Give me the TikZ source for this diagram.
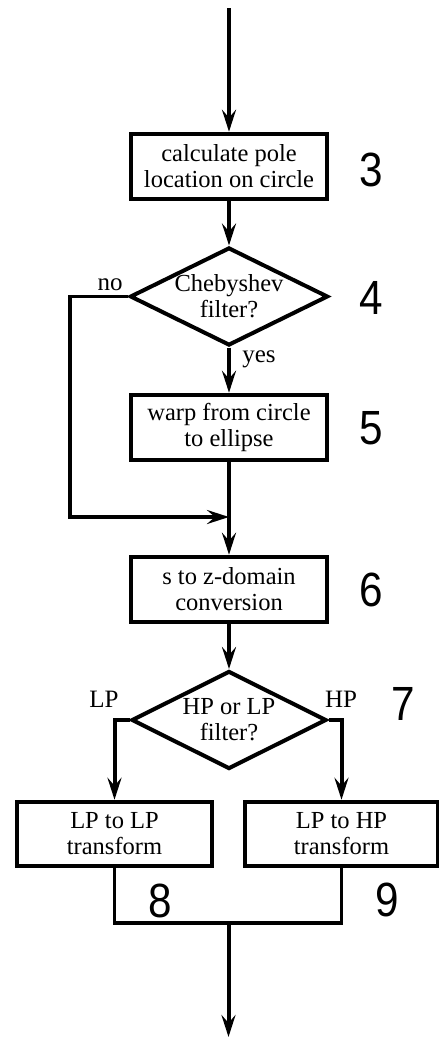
\documentclass[tikz,border=0pt]{standalone}
\usepackage{fontspec}
\setmainfont{Liberation Serif}
\newfontfamily\numfont{Liberation Sans}
\usetikzlibrary{shapes.geometric,arrows.meta}
\tikzset{
  box/.style={draw, line width=4.5pt, minimum width=196pt, minimum height=65pt,
    align=center, inner sep=0pt},
  decide/.style={draw, diamond, aspect=2, line width=4pt, inner sep=0pt,
    minimum width=198pt, minimum height=98pt, align=center},
  stepno/.style={font=\numfont\fontsize{48}{48}\selectfont, xscale=0.88},
  lbl/.style={font=\fontsize{25}{26}\selectfont}
}
\begin{document}
\begin{tikzpicture}[x=1pt, y=-1pt, line width=4pt,
    >={Stealth[length=22pt,width=14pt,inset=8pt]},
    every node/.style={font=\fontsize{24.5}{26}\selectfont}]
  \useasboundingbox (0,0) rectangle (439,1039);
  \coordinate (top) at (229,8);
  \node[box] (calc) at (229,166.5) {calculate pole\\location on circle};
  \node[decide] (cheby) at (229,296.5) {Chebyshev\\filter?};
  \node[box] (warp) at (229,427.5) {warp from circle\\to ellipse};
  \coordinate (join) at (229,517);
  \node[box] (conv) at (229,589.5) {s to z-domain\\conversion};
  \node[decide, minimum width=195pt] (hplp) at (229,720) {HP or LP\\filter?};
  \node[box, minimum width=195pt, minimum height=64pt] (lptolp) at (114.5,834) {LP to LP\\transform};
  \node[box, minimum width=193pt, minimum height=64pt] (lptohp) at (341.5,834) {LP to HP\\transform};
  \coordinate (merge) at (228.5,923);
  \coordinate (bottom) at (228.5,1037);
  \draw[->] (top) -- (calc);
  \draw[->] (calc) -- (cheby);
  \draw[->] (cheby) -- node[lbl, right=8pt, pos=0.25] {yes} (warp);
  \draw[->] (warp) -- (conv);
  \draw[->, line width=3.5pt] (cheby.west) -- ++(-58,0) |- (join);
  \draw[->] (conv) -- (hplp);
  \draw[->] (hplp.west) -| (lptolp.north);
  \draw[->] (hplp.east) -| (lptohp.north);
  \draw[line width=3.5pt] (lptolp.south) |- (merge) -| (lptohp.south);
  \draw[->] (merge) -- (bottom);
  \node[lbl, above left] (no) at (cheby.west) {no};
  \node[lbl] (lp) at (104,699) {LP};
  \node[lbl] (hp) at (341,699) {HP};
  \node[stepno] (s3) at (371,170) {3};
  \node[stepno] (s4) at (371,298) {4};
  \node[stepno] (s5) at (371,428) {5};
  \node[stepno] (s6) at (371,590) {6};
  \node[stepno] (s7) at (403,704) {7};
  \node[stepno] (s8) at (160,901) {8};
  \node[stepno] (s9) at (387,900) {9};
\end{tikzpicture}
\end{document}
